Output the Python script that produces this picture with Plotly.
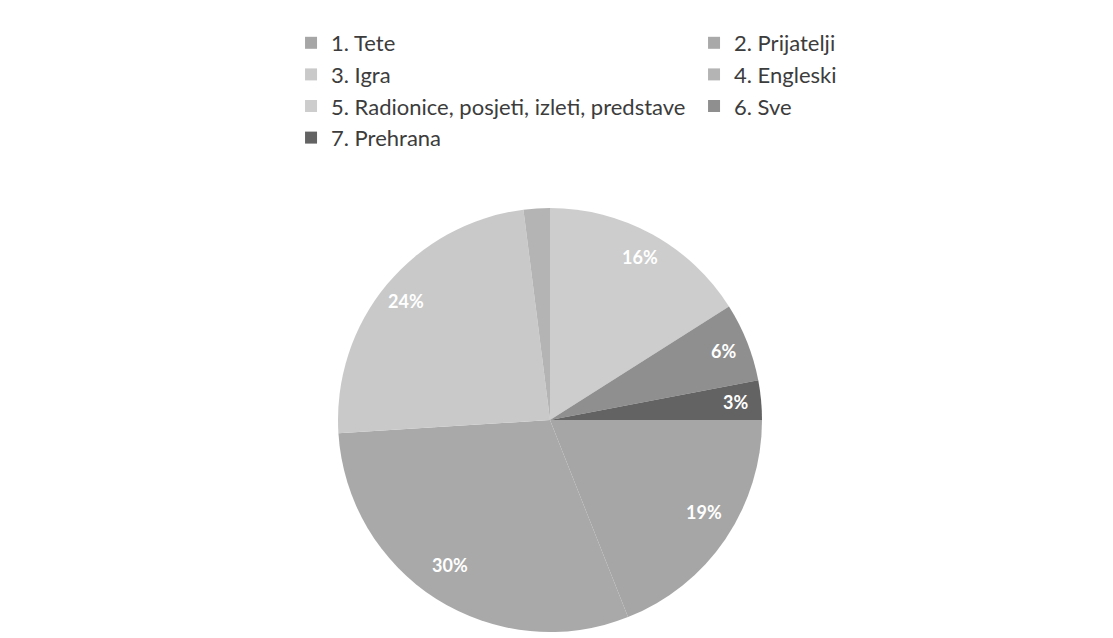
import math
import plotly.graph_objects as go

labels = ["1. Tete", "2. Prijatelji", "3. Igra", "4. Engleski",
          "5. Radionice, posjeti, izleti, predstave", "6. Sve", "7. Prehrana"]
values = [19, 30, 24, 2, 16, 6, 3]
colors = ["#a6a6a6", "#a9a9a9", "#c9c9c9", "#b4b4b4", "#cdcdcd", "#8f8f8f", "#636363"]
shown_pct = ["19%", "30%", "24%", "", "16%", "6%", "3%"]

W, H = 1113, 638
cx, cy, R = 542, 412, 212

fig = go.Figure(go.Pie(
    labels=labels, values=values, sort=False, direction="clockwise", rotation=90,
    marker=dict(colors=colors, line=dict(width=0)),
    textinfo="none", hoverinfo="label+percent",
    domain=dict(x=[(cx - R) / W, (cx + R) / W], y=[1 - (cy + R) / H, 1 - (cy - R) / H]),
))

# percent labels placed near the outer rim, computed from the data
total = sum(values)
acc = 0.0
for v, t in zip(values, shown_pct):
    mid = -(acc + v / 2) / total * 360  # start at 3 o'clock, clockwise
    acc += v
    if not t:
        continue
    rf = 0.88
    x = cx + rf * R * math.cos(math.radians(mid))
    y = cy - rf * R * math.sin(math.radians(mid))
    fig.add_annotation(x=x / W, y=1 - y / H, xref="paper", yref="paper", text=t,
                       showarrow=False, font=dict(family="Lato", size=18, color="white", weight="bold"))

fig.update_layout(
    width=W, height=H, margin=dict(l=0, r=0, t=0, b=0),
    paper_bgcolor="white", plot_bgcolor="white",
    showlegend=True,
    legend=dict(orientation="h", x=0.2543, y=1 - 14 / H, xanchor="left", yanchor="top",
                entrywidth=358, entrywidthmode="pixels", traceorder="normal",
                font=dict(family="Lato", size=22, color="#3c3c3c"), itemwidth=30,
                tracegroupgap=0),
)

fig.write_html("out.html")
